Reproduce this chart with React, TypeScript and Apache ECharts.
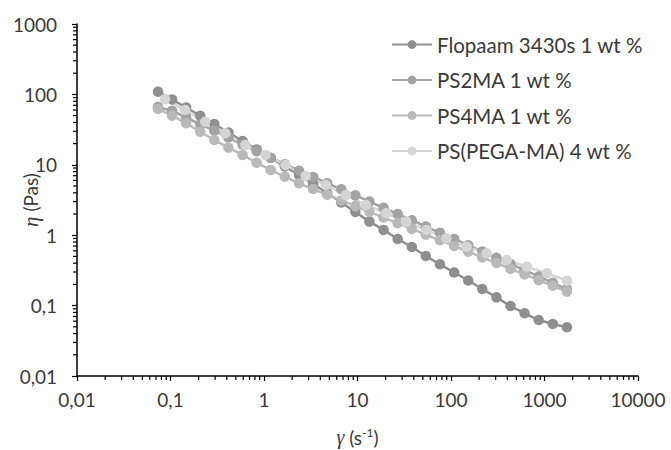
import React, { useEffect, useRef } from "react";
import * as echarts from "echarts";

// Shear rates (s^-1) for Flopaam, PS2MA, PS4MA
const shearRates = [
  0.0735, 0.104, 0.147, 0.208, 0.294, 0.417, 0.59, 0.835, 1.18, 1.67, 2.37, 3.35, 4.74, 6.71, 9.49,
  13.4, 19.0, 26.9, 38.1, 53.8, 76.2, 108, 153, 216, 306, 433, 612, 867, 1227, 1738,
];
// Shear rates for PS(PEGA-MA)
const shearRatesPega = [
  0.0873, 0.143, 0.235, 0.385, 0.632, 1.04, 1.7, 2.79, 4.58, 7.52, 12.3, 20.2, 33.2, 54.5, 89.3,
  147, 240, 394, 647, 1062, 1742,
];

const flopaam = [
  109, 84.7, 65.2, 49.7, 38.0, 28.8, 21.8, 16.5, 12.5, 9.46, 7.16, 5.34, 3.97, 2.91, 2.14, 1.56,
  1.19, 0.883, 0.68, 0.507, 0.386, 0.295, 0.227, 0.172, 0.131, 0.0987, 0.0778, 0.0624, 0.0548, 0.0492,
];
const ps2ma = [
  66, 58.7, 47.0, 37.6, 30.7, 24.4, 19.4, 15.6, 12.6, 10.2, 8.24, 6.71, 5.48, 4.49, 3.68, 3.01, 2.45,
  2.0, 1.63, 1.33, 1.08, 0.883, 0.72, 0.587, 0.478, 0.39, 0.318, 0.259, 0.211, 0.172,
];
const ps4ma = [
  62.1, 49.8, 38.9, 29.5, 22.5, 17.5, 13.8, 10.7, 8.43, 6.78, 5.46, 4.53, 3.76, 3.12, 2.59, 2.15,
  1.78, 1.48, 1.23, 1.02, 0.847, 0.703, 0.583, 0.484, 0.403, 0.333, 0.277, 0.23, 0.191, 0.158,
];
const pega = [
  85.2, 60.0, 40.9, 28.0, 19.1, 13.8, 9.93, 6.93, 5.16, 3.72, 2.69, 2.05, 1.56, 1.19, 0.904, 0.687,
  0.553, 0.444, 0.357, 0.288, 0.226,
];

const seriesNames = ["Flopaam 3430s 1 wt %", "PS2MA 1 wt %", "PS4MA 1 wt %", "PS(PEGA-MA) 4 wt %"];
const seriesColors = ["#8f8f8f", "#a3a3a3", "#b9b9b9", "#d5d5d5"];

const xTickValues = [0.01, 0.1, 1, 10, 100, 1000, 10000];
const xTickLabels = ["0,01", "0,1", "1", "10", "100", "1000", "10000"];
const yTickValues = [0.01, 0.1, 1, 10, 100, 1000];
const yTickLabels = ["0,01", "0,1", "1", "10", "100", "1000"];
const minorMultipliers = [2, 3, 4, 5, 6, 7, 8, 9];

const FONT = "Lato";
const TEXT = "#3a3a3a";

function labelFor(values: number[], labels: string[], v: number) {
  for (let i = 0; i < values.length; i++) {
    if (Math.abs(Math.log10(values[i]) - Math.log10(v)) < 1e-6) return labels[i];
  }
  return "";
}

export default function App() {
  const ref = useRef<HTMLDivElement>(null);
  useEffect(() => {
    if (!ref.current) return;
    const chart = echarts.init(ref.current, null, { renderer: "svg" });

    const xMinor: number[][] = [];
    for (let i = 0; i < xTickValues.length - 1; i++)
      for (const m of minorMultipliers) xMinor.push([xTickValues[i] * m, 0.01]);
    const yMinor: number[][] = [];
    for (let i = 0; i < yTickValues.length - 1; i++)
      for (const m of minorMultipliers) yMinor.push([0.01, yTickValues[i] * m]);

    const mk = (name: string, xs: number[], ys: number[], color: string) => ({
      name,
      type: "line",
      data: xs.map((x, i) => [x, ys[i]]),
      symbol: "circle",
      symbolSize: 10.5,
      showSymbol: true,
      lineStyle: { color, width: 2.5 },
      itemStyle: { color },
      emphasis: { disabled: true },
      z: 3,
    });

    chart.setOption({
      animation: false,
      grid: { left: 77, right: 33, top: 24, bottom: 74, outerBoundsMode: "none", containLabel: false },
      legend: {
        data: seriesNames,
        orient: "vertical",
        left: 386,
        top: 29,
        itemWidth: 40,
        itemHeight: 11,
        itemGap: 14.5,
        textStyle: { fontSize: 20.5, fontFamily: FONT, color: TEXT },
      },
      xAxis: {
        type: "log",
        logBase: 10,
        min: 0.01,
        max: 10000,
        splitLine: { show: false },
        axisLine: { lineStyle: { color: "#000", width: 1.5 } },
        axisTick: { length: 5, lineStyle: { color: "#000", width: 1.2 } },
        axisLabel: {
          fontSize: 19,
          fontFamily: FONT,
          color: TEXT,
          margin: 14,
          formatter: (v: number) => labelFor(xTickValues, xTickLabels, v),
        },
        name: "{i|γ} (s{sup|-1})",
        nameLocation: "middle",
        nameGap: 50,
        nameMoveOverlap: false,
        nameTextStyle: {
          fontSize: 19,
          fontFamily: FONT,
          color: TEXT,
          rich: {
            i: { fontSize: 20, fontFamily: "Liberation Serif", fontStyle: "italic", color: TEXT },
            sup: { fontSize: 12, fontFamily: FONT, color: TEXT, verticalAlign: "top", padding: [0, 0, 10, 0] },
          },
        },
      },
      yAxis: {
        type: "log",
        logBase: 10,
        min: 0.01,
        max: 1000,
        splitLine: { show: false },
        axisLine: { lineStyle: { color: "#000", width: 1.5 } },
        axisTick: { length: 5, lineStyle: { color: "#000", width: 1.2 } },
        axisLabel: {
          fontSize: 19,
          fontFamily: FONT,
          color: TEXT,
          margin: 20,
          formatter: (v: number) => labelFor(yTickValues, yTickLabels, v),
        },
        name: "{i|η} (Pas)",
        nameLocation: "middle",
        nameGap: 36,
        nameRotate: 90,
        nameMoveOverlap: false,
        nameTextStyle: {
          fontSize: 19,
          fontFamily: FONT,
          color: TEXT,
          rich: {
            i: { fontSize: 21, fontFamily: "Liberation Serif", fontStyle: "italic", color: TEXT },
          },
        },
      },
      series: [
        mk(seriesNames[0], shearRates, flopaam, seriesColors[0]),
        mk(seriesNames[1], shearRates, ps2ma, seriesColors[1]),
        mk(seriesNames[2], shearRates, ps4ma, seriesColors[2]),
        mk(seriesNames[3], shearRatesPega, pega, seriesColors[3]),
        {
          type: "custom",
          name: "xminor",
          data: xMinor,
          clip: false,
          silent: true,
          renderItem: (_p: any, api: any) => {
            const c = api.coord([api.value(0), api.value(1)]);
            return {
              type: "line",
              shape: { x1: c[0], y1: c[1], x2: c[0], y2: c[1] + 4 },
              style: { stroke: "#000", lineWidth: 1.2 },
            };
          },
        },
        {
          type: "custom",
          name: "yminor",
          data: yMinor,
          clip: false,
          silent: true,
          renderItem: (_p: any, api: any) => {
            const c = api.coord([api.value(0), api.value(1)]);
            return {
              type: "line",
              shape: { x1: c[0], y1: c[1], x2: c[0] - 4, y2: c[1] },
              style: { stroke: "#000", lineWidth: 1.2 },
            };
          },
        },
      ],
    });
    return () => chart.dispose();
  }, []);
  return (
    <div
      ref={ref}
      style={{ position: "fixed", left: 0, top: 0, width: 671, height: 450, background: "#fff" }}
    />
  );
}
